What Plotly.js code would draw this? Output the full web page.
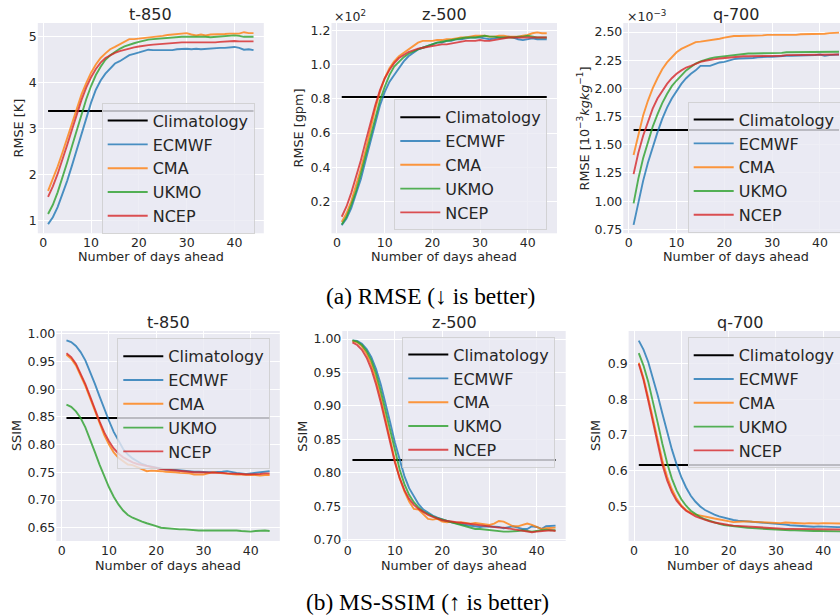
<!DOCTYPE html>
<html><head><meta charset="utf-8">
<script src="https://cdn.plot.ly/plotly-3.0.1.min.js"></script>
<style>html,body{margin:0;padding:0;overflow:hidden;width:840px;height:616px;background:#fff}#chart{width:870px;height:616px}</style>
</head><body><div id="chart"></div>
<script>
// ---------------- DATA ----------------
const days = [1,2,3,4,5,6,7,8,9,10,11,12,13,14,15,16,17,18,19,20,21,22,23,24,25,26,27,28,29,30,31,32,33,34,35,36,37,38,39,40,41,42,43,44];
const seriesNames = ['ECMWF','CMA','UKMO','NCEP'];
const climName = 'Climatology';
const xTickVals = [0,10,20,30,40];
const xTitle = 'Number of days ahead';

// (a) RMSE  t-850 [K]
const t850RmseClim = 3.39;
const t850RmseECMWF = [0.93,1.08,1.3,1.57,1.87,2.2,2.55,2.9,3.25,3.57,3.85,4.05,4.2,4.32,4.42,4.47,4.54,4.6,4.63,4.66,4.68,4.72,4.71,4.71,4.71,4.72,4.71,4.73,4.74,4.74,4.73,4.74,4.73,4.74,4.74,4.75,4.76,4.76,4.77,4.78,4.76,4.72,4.73,4.71];
const t850RmseCMA = [1.65,1.9,2.18,2.48,2.8,3.12,3.45,3.75,4.0,4.22,4.4,4.54,4.64,4.73,4.78,4.84,4.9,4.95,4.95,4.96,4.97,4.98,5.0,5.01,5.02,5.04,5.05,5.07,5.07,5.08,5.05,5.03,5.05,5.03,5.05,5.05,5.06,5.06,5.07,5.07,5.07,5.1,5.08,5.08];
const t850RmseUKMO = [1.15,1.35,1.62,1.93,2.27,2.62,2.97,3.32,3.65,3.93,4.17,4.35,4.5,4.6,4.68,4.74,4.79,4.83,4.86,4.89,4.92,4.94,4.95,4.96,4.97,4.97,4.99,5.0,5.0,5.0,5.0,5.01,5.0,5.0,4.99,5.0,5.01,5.02,5.03,5.03,5.02,5.0,5.0,5.0];
const t850RmseNCEP = [1.52,1.75,2.02,2.32,2.65,2.98,3.32,3.63,3.9,4.12,4.3,4.44,4.54,4.6,4.65,4.69,4.72,4.75,4.77,4.79,4.81,4.82,4.83,4.84,4.84,4.85,4.86,4.87,4.88,4.88,4.88,4.87,4.88,4.88,4.88,4.88,4.89,4.9,4.9,4.91,4.9,4.9,4.9,4.9];
const t850RmseTicks = [1,2,3,4,5];

// (a) RMSE  z-500 [x10^2 gpm]
const z500RmseClim = 0.811;
const z500RmseECMWF = [0.06,0.1,0.16,0.24,0.33,0.44,0.55,0.66,0.76,0.84,0.9,0.94,0.98,1.02,1.05,1.07,1.09,1.1,1.11,1.12,1.13,1.13,1.14,1.14,1.15,1.15,1.155,1.16,1.16,1.16,1.155,1.15,1.155,1.16,1.16,1.165,1.16,1.15,1.145,1.15,1.155,1.15,1.15,1.15];
const z500RmseCMA = [0.08,0.13,0.2,0.29,0.39,0.5,0.62,0.74,0.84,0.92,0.98,1.02,1.05,1.07,1.09,1.11,1.13,1.14,1.14,1.14,1.145,1.145,1.15,1.15,1.155,1.16,1.16,1.165,1.17,1.17,1.17,1.165,1.165,1.17,1.17,1.165,1.165,1.165,1.17,1.175,1.185,1.19,1.185,1.185];
const z500RmseUKMO = [0.065,0.11,0.18,0.26,0.36,0.47,0.58,0.69,0.79,0.87,0.94,0.99,1.02,1.045,1.065,1.08,1.09,1.1,1.11,1.12,1.13,1.135,1.14,1.145,1.15,1.155,1.16,1.16,1.16,1.165,1.17,1.165,1.165,1.16,1.16,1.16,1.16,1.165,1.165,1.17,1.165,1.16,1.16,1.16];
const z500RmseNCEP = [0.11,0.17,0.25,0.34,0.44,0.55,0.66,0.76,0.85,0.92,0.97,1.01,1.04,1.06,1.075,1.085,1.095,1.1,1.105,1.11,1.115,1.12,1.12,1.125,1.13,1.135,1.14,1.14,1.14,1.145,1.14,1.14,1.145,1.15,1.155,1.16,1.16,1.16,1.16,1.16,1.16,1.16,1.16,1.16];
const z500RmseTicks = [0.2,0.4,0.6,0.8,1.0,1.2];

// (a) RMSE  q-700 [x10^-3 kg/kg]
const q700RmseClim = 1.63;
const q700RmseECMWF = [0.79,1.0,1.18,1.34,1.48,1.61,1.73,1.83,1.91,1.98,2.04,2.09,2.13,2.16,2.2,2.2,2.2,2.215,2.23,2.235,2.25,2.26,2.265,2.265,2.265,2.27,2.275,2.28,2.28,2.28,2.285,2.29,2.29,2.29,2.29,2.29,2.295,2.29,2.295,2.3,2.29,2.295,2.3,2.3];
const q700RmseCMA = [1.41,1.6,1.76,1.89,2.0,2.09,2.17,2.23,2.28,2.32,2.35,2.37,2.39,2.41,2.415,2.42,2.43,2.435,2.44,2.45,2.46,2.465,2.465,2.465,2.465,2.47,2.47,2.47,2.475,2.475,2.47,2.47,2.47,2.475,2.475,2.48,2.48,2.48,2.485,2.485,2.485,2.49,2.49,2.495];
const q700RmseUKMO = [0.98,1.2,1.38,1.53,1.66,1.77,1.87,1.95,2.02,2.07,2.12,2.16,2.19,2.22,2.24,2.255,2.265,2.275,2.28,2.285,2.29,2.3,2.305,2.305,2.31,2.31,2.31,2.315,2.315,2.315,2.315,2.315,2.32,2.32,2.32,2.32,2.32,2.32,2.325,2.325,2.325,2.325,2.325,2.325];
const q700RmseNCEP = [1.24,1.43,1.58,1.71,1.82,1.91,1.98,2.04,2.09,2.13,2.16,2.185,2.2,2.22,2.235,2.245,2.255,2.26,2.265,2.27,2.275,2.28,2.28,2.285,2.285,2.285,2.29,2.29,2.29,2.29,2.29,2.29,2.295,2.295,2.295,2.295,2.295,2.295,2.3,2.3,2.3,2.3,2.3,2.3];
const q700RmseTicks = [0.75,1.0,1.25,1.5,1.75,2.0,2.25,2.5];

// (b) MS-SSIM  t-850
const t850SsimClim = 0.848;
const t850SsimECMWF = [0.988,0.985,0.978,0.967,0.952,0.932,0.91,0.887,0.864,0.843,0.823,0.806,0.792,0.782,0.775,0.77,0.765,0.762,0.76,0.758,0.756,0.755,0.755,0.754,0.754,0.753,0.752,0.751,0.751,0.75,0.75,0.75,0.75,0.751,0.752,0.75,0.749,0.748,0.747,0.748,0.749,0.75,0.751,0.752];
const t850SsimCMA = [0.962,0.955,0.943,0.926,0.906,0.884,0.861,0.838,0.817,0.8,0.786,0.776,0.77,0.764,0.763,0.759,0.755,0.752,0.753,0.753,0.752,0.751,0.751,0.75,0.749,0.749,0.748,0.746,0.746,0.746,0.748,0.75,0.749,0.748,0.747,0.747,0.746,0.746,0.745,0.745,0.745,0.744,0.745,0.745];
const t850SsimUKMO = [0.872,0.868,0.86,0.848,0.831,0.81,0.787,0.764,0.742,0.723,0.706,0.692,0.681,0.673,0.668,0.664,0.661,0.658,0.656,0.653,0.65,0.649,0.648,0.648,0.647,0.647,0.646,0.645,0.645,0.645,0.645,0.645,0.645,0.646,0.646,0.646,0.645,0.644,0.643,0.643,0.644,0.645,0.645,0.644];
const t850SsimNCEP = [0.965,0.958,0.946,0.929,0.909,0.887,0.864,0.842,0.822,0.806,0.793,0.784,0.777,0.772,0.768,0.765,0.763,0.761,0.759,0.757,0.756,0.755,0.754,0.753,0.753,0.752,0.751,0.75,0.75,0.75,0.75,0.75,0.749,0.749,0.748,0.748,0.748,0.747,0.746,0.746,0.746,0.747,0.748,0.748];
const t850SsimTicks = [0.65,0.70,0.75,0.80,0.85,0.90,0.95,1.00];

// (b) MS-SSIM  z-500
const z500SsimClim = 0.819;
const z500SsimECMWF = [0.998,0.997,0.993,0.985,0.973,0.955,0.932,0.905,0.875,0.845,0.818,0.795,0.777,0.764,0.753,0.745,0.74,0.736,0.733,0.73,0.728,0.726,0.724,0.723,0.722,0.721,0.72,0.719,0.72,0.72,0.72,0.719,0.717,0.718,0.72,0.718,0.716,0.716,0.72,0.719,0.716,0.72,0.721,0.721];
const z500SsimCMA = [0.997,0.995,0.989,0.978,0.962,0.94,0.912,0.88,0.848,0.818,0.792,0.772,0.757,0.746,0.745,0.738,0.731,0.73,0.731,0.727,0.726,0.727,0.725,0.726,0.725,0.724,0.725,0.724,0.722,0.722,0.724,0.728,0.727,0.723,0.72,0.72,0.722,0.724,0.722,0.719,0.716,0.717,0.718,0.718];
const z500SsimUKMO = [0.998,0.996,0.991,0.982,0.968,0.948,0.922,0.893,0.862,0.832,0.805,0.783,0.767,0.756,0.748,0.742,0.738,0.735,0.732,0.73,0.728,0.726,0.724,0.722,0.72,0.718,0.716,0.716,0.715,0.714,0.713,0.713,0.712,0.712,0.712,0.713,0.714,0.713,0.712,0.713,0.714,0.715,0.714,0.714];
const z500SsimNCEP = [0.995,0.991,0.984,0.972,0.955,0.932,0.905,0.874,0.843,0.815,0.792,0.774,0.761,0.752,0.746,0.741,0.737,0.734,0.731,0.729,0.728,0.727,0.726,0.725,0.724,0.723,0.722,0.721,0.72,0.72,0.719,0.718,0.718,0.717,0.716,0.715,0.714,0.712,0.711,0.712,0.713,0.714,0.714,0.713];
const z500SsimTicks = [0.70,0.75,0.80,0.85,0.90,0.95,1.00];

// (b) MS-SSIM  q-700
const q700SsimClim = 0.616;
const q700SsimECMWF = [0.965,0.94,0.905,0.862,0.812,0.76,0.708,0.66,0.618,0.582,0.553,0.53,0.513,0.5,0.49,0.483,0.477,0.472,0.468,0.464,0.462,0.46,0.459,0.458,0.457,0.455,0.454,0.453,0.452,0.451,0.45,0.449,0.447,0.446,0.445,0.445,0.444,0.443,0.444,0.443,0.443,0.442,0.442,0.442];
const q700SsimCMA = [0.903,0.86,0.805,0.745,0.683,0.628,0.583,0.548,0.522,0.503,0.49,0.482,0.477,0.475,0.472,0.469,0.466,0.463,0.46,0.458,0.456,0.457,0.458,0.458,0.457,0.456,0.455,0.454,0.453,0.452,0.453,0.455,0.454,0.452,0.451,0.452,0.453,0.452,0.452,0.453,0.453,0.452,0.452,0.452];
const q700SsimUKMO = [0.93,0.895,0.85,0.795,0.735,0.675,0.622,0.578,0.545,0.52,0.502,0.488,0.478,0.47,0.464,0.459,0.455,0.451,0.448,0.446,0.444,0.442,0.441,0.44,0.439,0.438,0.437,0.436,0.435,0.435,0.434,0.434,0.433,0.433,0.432,0.432,0.432,0.431,0.431,0.431,0.43,0.43,0.43,0.43];
const q700SsimNCEP = [0.9,0.855,0.797,0.735,0.672,0.617,0.573,0.54,0.516,0.5,0.488,0.479,0.472,0.467,0.462,0.458,0.455,0.452,0.45,0.448,0.446,0.445,0.444,0.443,0.442,0.441,0.44,0.44,0.439,0.438,0.438,0.437,0.437,0.437,0.436,0.436,0.436,0.436,0.435,0.435,0.435,0.435,0.435,0.435];
const q700SsimTicks = [0.5,0.6,0.7,0.8,0.9];

// ---------------- LAYOUT / STYLE ----------------
const W = 870, H = 616;
const fx = v => v / W, fy = v => 1 - v / H;
const colors = ['#1f77b4','#ff7f0e','#2ca02c','#d62728'];
const FONT = 'DejaVu Sans, sans-serif';
const TXT = '#262626';

const panels = [
  {title:'t-850', ytitle:'RMSE [K]', series:[t850RmseECMWF,t850RmseCMA,t850RmseUKMO,t850RmseNCEP], clim:t850RmseClim, ticks:t850RmseTicks, fmt:'d',
   xd:[37.8,263.8], yd:[23,233.3], yr:[0.73,5.30], leg:[101.7,102.7], ytx:18.3, xty:256.5, tty:14.5},
  {title:'z-500', ytitle:'RMSE [gpm]', series:[z500RmseECMWF,z500RmseCMA,z500RmseUKMO,z500RmseNCEP], clim:z500RmseClim, ticks:z500RmseTicks, fmt:'.1f',
   xd:[331.5,557], yd:[23,233.3], yr:[0.013,1.245], leg:[394.3,99.3], ytx:298.3, xty:256.5, tty:14.5, exp:'×10<sup>2</sup>', expx:331.5},
  {title:'q-700', ytitle:'RMSE [10<sup>−3</sup><i>kgkg</i><sup>−1</sup>]', series:[q700RmseECMWF,q700RmseCMA,q700RmseUKMO,q700RmseNCEP], clim:q700RmseClim, ticks:q700RmseTicks, fmt:'.2f',
   xd:[623.3,849.3], yd:[23,233.3], yr:[0.715,2.58], leg:[687.7,101.7], ytx:583.3, xty:256.5, tty:14.5, exp:'×10<sup>−3</sup>', expx:624.5},
  {title:'t-850', ytitle:'SSIM', series:[t850SsimECMWF,t850SsimCMA,t850SsimUKMO,t850SsimNCEP], clim:t850SsimClim, ticks:t850SsimTicks, fmt:'.2f',
   xd:[56.3,279.8], yd:[331,541], yr:[0.626,1.005], leg:[117.3,338.3], ytx:16, xty:565, tty:322},
  {title:'z-500', ytitle:'SSIM', series:[z500SsimECMWF,z500SsimCMA,z500SsimUKMO,z500SsimNCEP], clim:z500SsimClim, ticks:z500SsimTicks, fmt:'.2f',
   xd:[342.3,565.7], yd:[331,541], yr:[0.698,1.012], leg:[402.3,336.7], ytx:301.7, xty:565, tty:322},
  {title:'q-700', ytitle:'SSIM', series:[q700SsimECMWF,q700SsimCMA,q700SsimUKMO,q700SsimNCEP], clim:q700SsimClim, ticks:q700SsimTicks, fmt:'.1f',
   xd:[628.6,852.3], yd:[331,541], yr:[0.403,0.992], leg:[687.7,337.3], ytx:595, xty:565, tty:322}
];

const traces = [];
const layout = {
  width: W, height: H,
  margin: {l:0, r:0, t:0, b:0, autoexpand:false},
  paper_bgcolor: '#ffffff',
  plot_bgcolor: '#EAEAF2',
  font: {family: FONT, color: TXT, size: 12.5},
  showlegend: true,
  annotations: []
};

panels.forEach((p, i) => {
  const k = i === 0 ? '' : String(i + 1);
  const xa = 'x' + k, ya = 'y' + k, lg = 'legend' + k;
  traces.push({x: days, y: days.map(() => p.clim), type:'scatter', mode:'lines', name: climName,
    xaxis: xa, yaxis: ya, legend: lg, line:{color:'#000000', width:2}});
  p.series.forEach((s, j) => {
    traces.push({x: days, y: s, type:'scatter', mode:'lines', name: seriesNames[j],
      xaxis: xa, yaxis: ya, legend: lg, line:{color: colors[j], width:1.9}, opacity:0.8});
  });
  const axCommon = {showgrid:true, gridcolor:'#ffffff', gridwidth:1, zeroline:false, showline:false,
    ticks:'', tickfont:{family:FONT, size:12.5, color:TXT}};
  layout['xaxis' + k] = Object.assign({}, axCommon, {domain:[fx(p.xd[0]), fx(p.xd[1])], range:[-1.15, 46.15],
    tickvals: xTickVals, anchor: ya});
  layout['yaxis' + k] = Object.assign({}, axCommon, {domain:[fy(p.yd[1]), fy(p.yd[0])], range:p.yr,
    tickvals: p.ticks, tickformat: p.fmt, anchor: xa});
  layout[lg] = {x: fx(p.leg[0]), y: fy(p.leg[1]), xanchor:'left', yanchor:'top', xref:'paper', yref:'paper',
    bgcolor:'rgba(234,234,242,0.8)', bordercolor:'rgba(204,204,204,0.8)', borderwidth:1, itemwidth:40,
    font:{family:FONT, size:16, color:TXT}};
  const cx = (p.xd[0] + p.xd[1]) / 2, cy = (p.yd[0] + p.yd[1]) / 2;
  layout.annotations.push({text:p.title, x:fx(cx), y:fy(p.tty), xref:'paper', yref:'paper', showarrow:false,
    xanchor:'center', yanchor:'middle', font:{family:FONT, size:16, color:TXT}});
  layout.annotations.push({text:xTitle, x:fx(cx), y:fy(p.xty), xref:'paper', yref:'paper', showarrow:false,
    xanchor:'center', yanchor:'middle', font:{family:FONT, size:12.8, color:TXT}});
  layout.annotations.push({text:p.ytitle, x:fx(p.ytx), y:fy(cy), xref:'paper', yref:'paper', showarrow:false,
    textangle:-90, xanchor:'center', yanchor:'middle', font:{family:FONT, size:12.8, color:TXT}});
  if (p.exp) {
    layout.annotations.push({text:p.exp, x:fx(p.expx), y:fy(15.5), xref:'paper', yref:'paper', showarrow:false,
      xanchor:'left', yanchor:'middle', font:{family:FONT, size:12.5, color:TXT}});
  }
});

const captions = ['(a) RMSE (↓ is better)', '(b) MS-SSIM (↑ is better)'];
layout.annotations.push({text:captions[0], x:fx(430.5), y:fy(296), xref:'paper', yref:'paper', showarrow:false,
  xanchor:'center', yanchor:'middle', font:{family:'Liberation Serif, serif', size:23.4, color:'#000000'}});
layout.annotations.push({text:captions[1], x:fx(427.5), y:fy(602), xref:'paper', yref:'paper', showarrow:false,
  xanchor:'center', yanchor:'middle', font:{family:'Liberation Serif, serif', size:23.4, color:'#000000'}});

Plotly.newPlot('chart', traces, layout, {staticPlot:true, displayModeBar:false});
</script>
</body></html>
